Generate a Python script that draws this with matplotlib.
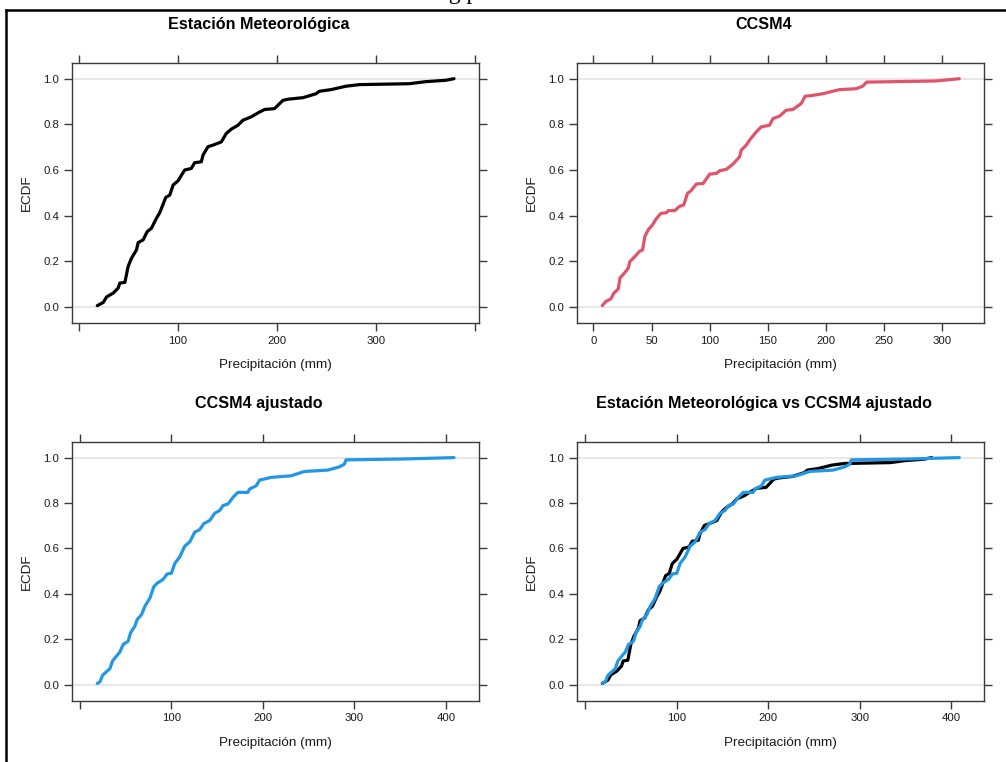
import matplotlib
matplotlib.use("Agg")
import matplotlib.pyplot as plt
from matplotlib.lines import Line2D

# ---------------- data ----------------
# Estación Meteorológica: ECDF knots (precipitation mm, cumulative proportion)
estacion_x = [18.5, 24.5, 27.9, 34.6, 39.6, 41.3, 46.4, 49.7, 53.1, 58.1, 59.8, 64.8,
              68.9, 73.2, 78.3, 81.6, 87.7, 91.7, 95.1, 100.1, 106.8, 113.5, 116.9,
              123.6, 125.3, 130.3, 135.4, 143.8, 148.8, 153.9, 160.6, 165.6, 174.1,
              180.8, 187.5, 197.6, 206.0, 211.0, 226.4, 239.5, 242.9, 254.6, 269.7,
              283.2, 333.6, 350.4, 370.5, 378.9]
estacion_F = [0.006, 0.020, 0.044, 0.061, 0.083, 0.105, 0.108, 0.178, 0.214, 0.250,
              0.282, 0.294, 0.330, 0.345, 0.389, 0.413, 0.480, 0.490, 0.534, 0.553,
              0.600, 0.607, 0.632, 0.636, 0.665, 0.702, 0.709, 0.723, 0.760, 0.779,
              0.796, 0.818, 0.833, 0.850, 0.865, 0.869, 0.905, 0.910, 0.917, 0.934,
              0.945, 0.952, 0.967, 0.974, 0.978, 0.987, 0.993, 1.000]

# CCSM4
ccsm4_x = [7.7, 10.9, 14.9, 17.7, 21.4, 22.9, 27.1, 30.0, 31.4, 35.7, 39.4, 42.3, 44.3,
           47.1, 50.9, 53.7, 58.0, 62.9, 64.3, 70.0, 73.7, 77.7, 80.9, 83.7, 88.6, 94.3,
           100.0, 105.7, 108.6, 114.3, 120.0, 125.7, 127.1, 131.4, 134.3, 140.0, 144.3,
           151.4, 154.3, 160.0, 165.7, 171.4, 178.6, 182.0, 188.6, 197.1, 205.7, 211.4,
           225.7, 231.4, 234.9, 294.3, 314.5]
ccsm4_F = [0.006, 0.025, 0.035, 0.061, 0.079, 0.127, 0.151, 0.170, 0.199, 0.221, 0.243,
           0.250, 0.309, 0.338, 0.360, 0.384, 0.410, 0.413, 0.422, 0.422, 0.440, 0.447,
           0.498, 0.508, 0.539, 0.541, 0.582, 0.585, 0.597, 0.603, 0.626, 0.658, 0.687,
           0.709, 0.731, 0.767, 0.789, 0.796, 0.825, 0.836, 0.862, 0.865, 0.891, 0.923,
           0.927, 0.934, 0.945, 0.952, 0.956, 0.967, 0.985, 0.990, 1.000]

# CCSM4 ajustado
ajustado_x = [18.9, 21.8, 24.7, 29.1, 32.7, 35.6, 40.0, 43.6, 47.3, 52.7, 55.3, 60.0,
              62.5, 67.3, 70.9, 76.4, 80.7, 84.4, 90.9, 95.3, 100.0, 103.6, 109.1, 114.5,
              120.0, 125.5, 130.9, 135.3, 141.8, 147.3, 152.7, 156.4, 161.8, 167.3, 172.7,
              183.6, 185.5, 192.7, 196.4, 209.1, 230.9, 245.5, 270.9, 283.6, 289.1, 290.9,
              354.5, 409.0]
ajustado_F = [0.006, 0.013, 0.042, 0.058, 0.071, 0.105, 0.127, 0.144, 0.178, 0.192, 0.229,
              0.258, 0.287, 0.309, 0.345, 0.381, 0.432, 0.447, 0.464, 0.488, 0.491, 0.534,
              0.563, 0.610, 0.629, 0.672, 0.683, 0.709, 0.723, 0.755, 0.767, 0.789, 0.796,
              0.825, 0.847, 0.847, 0.862, 0.876, 0.901, 0.913, 0.920, 0.939, 0.945, 0.959,
              0.971, 0.990, 0.994, 1.000]

titles = ["Estación Meteorológica", "CCSM4", "CCSM4 ajustado",
          "Estación Meteorológica vs CCSM4 ajustado"]
xlabel = "Precipitación (mm)"
ylabel = "ECDF"
y_ticks = [0.0, 0.2, 0.4, 0.6, 0.8, 1.0]
x_ticks = [[0, 100, 200, 300, 400], [0, 50, 100, 150, 200, 250, 300],
           [0, 100, 200, 300, 400], [0, 100, 200, 300, 400]]
x_ticklabels = [["", "100", "200", "300", ""],
                ["0", "50", "100", "150", "200", "250", "300"],
                ["", "100", "200", "300", "400"],
                ["", "100", "200", "300", "400"]]

BLACK = "#000000"
RED = "#DF536B"
BLUE = "#2297E6"

plt.rcParams["font.family"] = ["Liberation Sans", "DejaVu Sans"]

W, H = 1006, 762
fig = plt.figure(figsize=(W / 100, H / 100), dpi=100)

# panel boxes in pixel coordinates (left, top, right, bottom)
boxes = [(72.3, 62.7, 479.0, 323.0), (577.3, 62.7, 984.3, 323.0),
         (72.3, 441.7, 479.0, 700.7), (577.3, 441.7, 984.3, 700.7)]

series = [[(estacion_x, estacion_F, BLACK)],
          [(ccsm4_x, ccsm4_F, RED)],
          [(ajustado_x, ajustado_F, BLUE)],
          [(estacion_x, estacion_F, BLACK), (ajustado_x, ajustado_F, BLUE)]]

AX_COL = "#3a3a3a"
pad = 0.07
for i, (box, ser) in enumerate(zip(boxes, series)):
    l, t, r, b = box
    ax = fig.add_axes([l / W, (H - b) / H, (r - l) / W, (b - t) / H])
    ax.axhline(0, color="#E6E6E6", lw=1.3, zorder=1)
    ax.axhline(1, color="#E6E6E6", lw=1.3, zorder=1)
    xmin = min(min(s[0]) for s in ser)
    xmax = max(max(s[0]) for s in ser)
    for xs, Fs, c in ser:
        ax.plot(xs, Fs, color=c, lw=2.3, solid_joinstyle="round",
                solid_capstyle="round", zorder=3)
    rng = xmax - xmin
    ax.set_xlim(xmin - pad * rng, xmax + pad * rng)
    ax.set_ylim(-0.07, 1.07)
    ax.set_xticks(x_ticks[i])
    ax.set_xticklabels(x_ticklabels[i])
    ax.set_yticks(y_ticks)
    ax.set_yticklabels([f"{v:.1f}" for v in y_ticks])
    ax.tick_params(axis="both", which="both", direction="out", length=5.5, width=1.0,
                   color=AX_COL, labelsize=8.2, labelcolor="#1a1a1a",
                   top=True, right=True, labeltop=False, labelright=False)
    ax.tick_params(axis="x", pad=3.5)
    ax.tick_params(axis="y", pad=4)
    for sp in ax.spines.values():
        sp.set_color(AX_COL)
        sp.set_linewidth(1.0)
    cx = (l + r) / 2
    cy = (t + b) / 2
    fig.text(cx / W, 1 - (b + 42) / H, xlabel, ha="center", va="center",
             fontsize=9.7, color="#1a1a1a")
    fig.text((l - 45.3) / W, 1 - cy / H, ylabel, ha="center", va="center",
             rotation=90, fontsize=9.7, color="#1a1a1a")
    fig.text(cx / W - 17.0 / W, 1 - (t - 38) / H, titles[i], ha="center",
             va="center", fontsize=11.6, fontweight="bold")

# outer document frame and cut-off text above it
fig.add_artist(Line2D([6 / W, 1], [1 - 10 / H, 1 - 10 / H], color="black", lw=1.8,
                      transform=fig.transFigure))
fig.add_artist(Line2D([6 / W, 6 / W], [0, 1 - 10 / H], color="black", lw=1.8,
                      transform=fig.transFigure))
fig.text(437 / W, 1 + 6 / H, "ng p", ha="left", va="center", fontsize=17,
         family=["Liberation Serif", "DejaVu Serif"])

fig.savefig("out.png", dpi=100)
